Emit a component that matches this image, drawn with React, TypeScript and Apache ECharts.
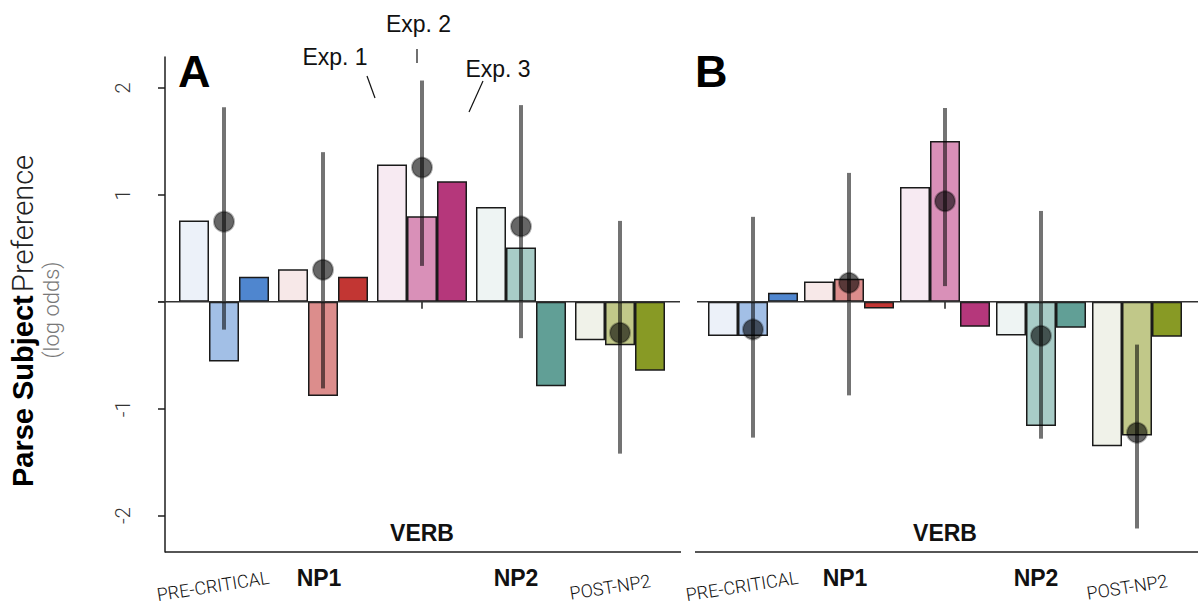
import React, { useEffect, useRef } from "react";
import * as echarts from "echarts";

const categories = ["PRE-CRITICAL", "NP1", "VERB", "NP2", "POST-NP2"];
const expNames = ["Exp. 1", "Exp. 2", "Exp. 3"];
const yTicks = [-2, -1, 0, 1, 2];
const yTickLabels = [-2, -1, 1, 2];

// Panel A
const panelAExp1 = [0.76, 0.305, 1.284, 0.888, -0.36];
const panelAExp2 = [-0.557, -0.88, 0.8, 0.508, -0.405];
const panelAExp3 = [0.234, 0.234, 1.128, -0.79, -0.645];
const panelAMean = [0.75, 0.3, 1.256, 0.705, -0.29];
const panelALow = [-0.26, -0.81, 0.336, -0.34, -1.42];
const panelAHigh = [1.82, 1.4, 2.07, 1.84, 0.757];

// Panel B
const panelBExp1 = [-0.32, 0.19, 1.075, -0.314, -1.35];
const panelBExp2 = [-0.32, 0.215, 1.505, -1.162, -1.25];
const panelBExp3 = [0.084, -0.062, -0.234, -0.243, -0.327];
const panelBMean = [-0.258, 0.178, 0.941, -0.318, -1.224];
const panelBLow = [-1.27, -0.875, 0.147, -1.28, -2.12];
const panelBHigh = [0.795, 1.206, 1.813, 0.85, -0.4];

const colorsExp1 = ["#ecf1f9", "#f7e8e8", "#f7eaf2", "#eef4f3", "#f0f2e9"];
const colorsExp2 = ["#a2bfe6", "#dc8d8c", "#d990b8", "#a8ccc7", "#c1c889"];
const colorsExp3 = ["#4f86cf", "#c23633", "#b5377b", "#619f96", "#889a25"];

const Y_MIN = -2.34;
const Y_MAX = 2.29;
const SANS = "'Liberation Sans', Arial, Helvetica, sans-serif";
const LIGHT = "Roboto, 'Liberation Sans', sans-serif";
const AXIS_COLOR = "#1e1e1e";

function barSeries(values: number[], colors: string[], name: string, idx: number) {
  return {
    type: "bar",
    name,
    xAxisIndex: idx,
    yAxisIndex: idx,
    barWidth: 30,
    barGap: "0%",
    z: 2,
    data: values.map((v, i) => ({
      value: v,
      itemStyle: { color: colors[i], borderColor: "#1a1a1a", borderWidth: 1.5 },
    })),
  };
}

function errorSeries(mean: number[], low: number[], high: number[], idx: number) {
  return {
    type: "custom",
    xAxisIndex: idx,
    yAxisIndex: idx,
    z: 5,
    encode: { x: 0, y: [1, 2, 3] },
    data: mean.map((m, i) => [i, m, low[i], high[i]]),
    renderItem: (params: any, api: any) => {
      const x = api.value(0);
      const top = api.coord([x, api.value(3)]);
      const bot = api.coord([x, api.value(2)]);
      const mid = api.coord([x, api.value(1)]);
      return {
        type: "group",
        children: [
          {
            type: "line",
            shape: { x1: top[0], y1: top[1], x2: bot[0], y2: bot[1] },
            style: { stroke: "rgba(0,0,0,0.55)", lineWidth: 4 },
          },
          {
            type: "circle",
            shape: { cx: mid[0], cy: mid[1], r: 10 },
            style: { fill: "rgba(0,0,0,0.6)", stroke: "rgba(0,0,0,0.3)", lineWidth: 2 },
          },
        ],
      };
    },
  };
}

function xAxisDef(idx: number) {
  return {
    type: "category",
    gridIndex: idx,
    data: categories,
    axisLine: { show: false },
    axisTick: { show: true, alignWithLabel: true, length: 7, lineStyle: { color: AXIS_COLOR, width: 1.5 } },
    axisLabel: { show: false },
    splitLine: { show: false },
  };
}

function yAxisDef(idx: number, visible: boolean) {
  return {
    type: "value",
    gridIndex: idx,
    min: Y_MIN,
    max: Y_MAX,
    offset: 9.5,
    show: visible,
    axisLine: { show: visible, lineStyle: { color: AXIS_COLOR, width: 1.5 } },
    axisTick: {
      show: visible,
      length: 7,
      customValues: yTicks,
      lineStyle: { color: AXIS_COLOR, width: 1.5 },
    },
    axisLabel: {
      show: visible,
      customValues: yTickLabels,
      rotate: 90,
      margin: 32,
      fontFamily: LIGHT,
      fontWeight: 300,
      fontSize: 20,
      color: "#333",
    },
    splitLine: { show: false },
  };
}

export default function App() {
  const ref = useRef<HTMLDivElement>(null);
  useEffect(() => {
    if (!ref.current) return;
    const chart = echarts.init(ref.current, undefined, { renderer: "svg" });
    const option: any = {
      animation: false,
      backgroundColor: "#ffffff",
      grid: [
        { left: 174.5, top: 57, width: 495, height: 495 },
        { left: 705, top: 57, width: 480, height: 495 },
      ],
      xAxis: [xAxisDef(0), xAxisDef(1)],
      yAxis: [yAxisDef(0, true), yAxisDef(1, false)],
      series: [
        barSeries(panelAExp1, colorsExp1, expNames[0], 0),
        barSeries(panelAExp2, colorsExp2, expNames[1], 0),
        barSeries(panelAExp3, colorsExp3, expNames[2], 0),
        errorSeries(panelAMean, panelALow, panelAHigh, 0),
        barSeries(panelBExp1, colorsExp1, expNames[0], 1),
        barSeries(panelBExp2, colorsExp2, expNames[1], 1),
        barSeries(panelBExp3, colorsExp3, expNames[2], 1),
        errorSeries(panelBMean, panelBLow, panelBHigh, 1),
      ],
    };
    chart.setOption(option);

    const px = (axis: number, i: number) => chart.convertToPixel({ xAxisIndex: axis }, i) as number;
    const py = (axis: number, v: number) => chart.convertToPixel({ yAxisIndex: axis }, v) as number;
    const zeroA = py(0, 0);
    const zeroB = py(1, 0);
    const bottom = py(0, Y_MIN);

    const g: any[] = [];
    const line = (x1: number, y1: number, x2: number, y2: number, w = 1.5, color = AXIS_COLOR) =>
      g.push({ type: "line", z: 10, shape: { x1, y1, x2, y2 }, style: { stroke: color, lineWidth: w } });
    const text = (t: string, x: number, y: number, font: any, extra: any = {}) =>
      g.push({
        type: "text",
        z: 10,
        x,
        y,
        rotation: extra.rotation || 0,
        style: {
          text: t,
          x: 0,
          y: 0,
          fill: font.color || "#111",
          fontSize: font.size,
          fontWeight: font.weight || "normal",
          fontFamily: font.family || SANS,
          align: "center",
          verticalAlign: "middle",
          textAlign: "center",
          textVerticalAlign: "middle",
        },
      });

    // zero lines
    line(158, zeroA, 680, zeroA, 1.5, "#333");
    line(697, zeroB, 1198, zeroB, 1.5, "#333");
    // bottom axis lines
    line(165, bottom, 681, bottom);
    line(695, bottom, 1198, bottom);

    // category labels
    [0, 1].forEach((ax) => {
      const cx = categories.map((_, i) => px(ax, i));
      const rot = (9 * Math.PI) / 180;
      text(categories[0], cx[0] - 11, 586, { size: 18, family: LIGHT, weight: 300, color: "#111" }, { rotation: rot });
      text(categories[1], cx[1] - 4, 578, { size: 23, weight: "bold" });
      text(categories[2], cx[2], 533, { size: 23, weight: "bold" });
      text(categories[3], cx[3] - 5, 578, { size: 23, weight: "bold" });
      text(categories[4], cx[4] - 10, 587, { size: 18, family: LIGHT, weight: 300, color: "#111" }, { rotation: rot });
    });

    // panel letters
    g.push({ type: "text", z: 10, x: 178, y: 49, style: { text: "A", fontSize: 45, fontWeight: "bold", fontFamily: SANS, fill: "#000" } });
    g.push({ type: "text", z: 10, x: 695, y: 49, style: { text: "B", fontSize: 45, fontWeight: "bold", fontFamily: SANS, fill: "#000" } });

    // Exp annotations relative to VERB group in panel A
    const vx = px(0, 2);
    text(expNames[0], vx - 87, 57, { size: 23 });
    line(vx - 55, 76, vx - 47, 98, 1.2, "#111");
    text(expNames[1], vx - 3.5, 24, { size: 23 });
    line(vx - 5, 49, vx - 5, 63, 1.2, "#111");
    text(expNames[2], vx + 76, 69, { size: 23 });
    line(vx + 61, 81, vx + 47, 112, 1.2, "#111");

    // y-axis title
    g.push({
      type: "text",
      z: 10,
      x: 23,
      y: 321,
      rotation: Math.PI / 2,
      style: {
        text: "{b|Parse Subject} {l|Preference}",
        x: 0,
        y: 0,
        align: "center",
        verticalAlign: "middle",
        rich: {
          b: { fontSize: 29, fontWeight: "bold", fontFamily: SANS, fill: "#000", color: "#000" },
          l: { fontSize: 29, fontWeight: 300, fontFamily: LIGHT, fill: "#222", color: "#222" },
        },
      },
    });
    text("(log odds)", 51, 310, { size: 22, family: LIGHT, weight: 300, color: "#777" }, { rotation: Math.PI / 2 });

    chart.setOption({ graphic: g });
    return () => chart.dispose();
  }, []);
  return <div ref={ref} style={{ position: "absolute", left: 0, top: 0, width: 1198, height: 605 }} />;
}
